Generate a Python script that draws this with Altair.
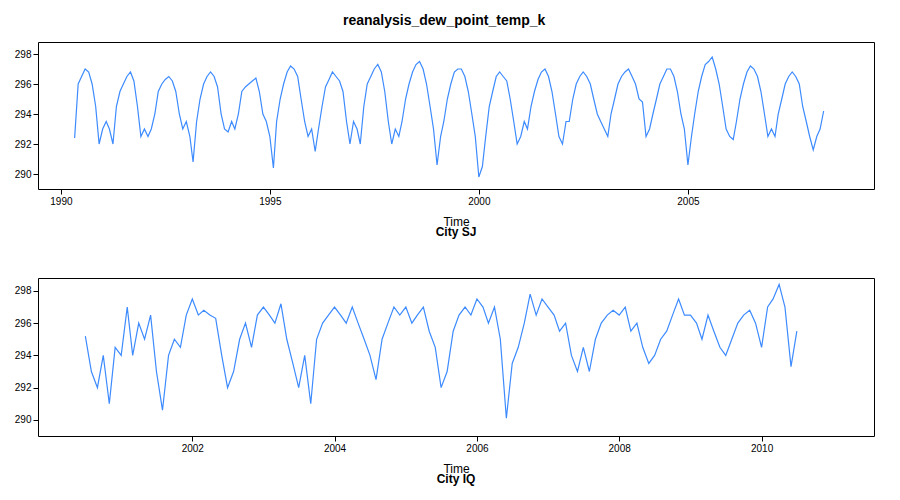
import altair as alt
import pandas as pd

sj_start = "1990-05-01"
sj_vals = [
    292.4, 296.0, 296.5, 297.0, 296.8, 296.0, 294.5, 292.0,
    293.0, 293.5, 293.0, 292.0, 294.5, 295.5, 296.0, 296.5, 296.8, 296.2, 294.5, 292.5,
    293.0, 292.5, 293.0, 294.0, 295.5, 296.0, 296.3, 296.5, 296.2, 295.5, 294.0, 293.0,
    293.5, 292.5, 290.8, 293.5, 295.0, 296.0, 296.5, 296.8, 296.5, 295.8, 294.0, 293.0,
    292.8, 293.5, 293.0, 294.0, 295.5, 295.8, 296.0, 296.2, 296.4, 295.5, 294.0, 293.5,
    292.5, 290.4, 293.5, 295.0, 296.0, 296.8, 297.2, 297.0, 296.5, 295.0, 293.5, 292.5,
    293.0, 291.5, 293.0, 294.5, 295.8, 296.3, 296.8, 296.5, 296.2, 295.5, 293.5, 292.0,
    293.5, 293.0, 292.0, 294.5, 296.0, 296.5, 297.0, 297.3, 296.8, 295.5, 293.5, 292.0,
    293.0, 292.5, 293.5, 295.0, 296.0, 296.8, 297.3, 297.5, 297.0, 296.0, 294.5, 293.0,
    290.6, 292.5, 293.5, 295.0, 296.0, 296.8, 297.0, 297.0, 296.5, 295.5, 294.0, 292.5,
    289.8, 290.5, 292.5, 294.5, 295.5, 296.5, 296.8, 296.5, 296.2, 295.0, 293.5, 292.0,
    292.5, 293.5, 293.0, 294.5, 295.5, 296.3, 296.8, 297.0, 296.5, 295.5, 294.0, 292.5,
    292.0, 293.5, 293.5, 295.0, 296.0, 296.5, 296.8, 296.5, 296.0, 295.0, 294.0, 293.5,
    293.0, 292.5, 294.0, 295.0, 296.0, 296.5, 296.8, 297.0, 296.5, 296.0, 295.0, 294.8,
    292.5, 293.0, 294.0, 295.0, 296.0, 296.5, 297.0, 297.0, 296.5, 295.5, 294.0, 293.0,
    290.6, 292.5, 294.0, 295.5, 296.5, 297.3, 297.5, 297.8, 297.0, 296.0, 294.5, 293.0,
    292.5, 292.3, 293.5, 295.0, 296.0, 296.8, 297.2, 297.0, 296.5, 295.5, 294.0, 292.5,
    293.0, 292.5, 294.0, 295.0, 296.0, 296.5, 296.8, 296.5, 296.0, 294.5, 293.5, 292.5,
    291.6, 292.5, 293.0, 294.2,
]

iq_start = "2000-07-01"
iq_vals = [
    295.2, 293.0, 292.0, 294.0, 291.0, 294.5,
    294.0, 297.0, 294.0, 296.0, 295.0, 296.5, 293.0, 290.6, 294.0, 295.0, 294.5, 296.5,
    297.5, 296.5, 296.8, 296.5, 296.3, 294.0, 292.0, 293.0, 295.0, 296.0, 294.5, 296.5,
    297.0, 296.5, 296.0, 297.2, 295.0, 293.5, 292.0, 294.0, 291.0, 295.0, 296.0, 296.5,
    297.0, 296.5, 296.0, 297.0, 296.0, 295.0, 294.0, 292.5, 295.0, 296.0, 297.0, 296.5,
    297.0, 296.0, 296.5, 297.0, 295.5, 294.5, 292.0, 293.0, 295.5, 296.5, 297.0, 296.5,
    297.5, 297.0, 296.0, 297.0, 295.0, 290.1, 293.5, 294.5, 296.0, 297.8, 296.5, 297.5,
    297.0, 296.5, 295.5, 296.0, 294.0, 293.0, 294.5, 293.0, 295.0, 296.0, 296.5, 296.8,
    296.5, 297.0, 295.5, 296.0, 294.5, 293.5, 294.0, 295.0, 295.5, 296.5, 297.5, 296.5,
    296.5, 296.0, 295.0, 296.5, 295.5, 294.5, 294.0, 295.0, 296.0, 296.5, 296.8, 296.0,
    294.5, 297.0, 297.5, 298.4, 297.0, 293.3, 295.5,
]


def panel(start, vals, city, dmin, dmax, tick_years, h):
    df = pd.DataFrame({"Time": pd.date_range(start, periods=len(vals), freq="MS"),
                       "v": vals})
    return alt.Chart(df).mark_line(color="#3d8bff", strokeWidth=1.2).encode(
        x=alt.X("Time:T", title="Time",
                scale=alt.Scale(domain=[dmin, dmax]),
                axis=alt.Axis(format="%Y", values=tick_years, grid=False,
                              labelFontSize=10, titleFontSize=12,
                              titleFontWeight="normal", tickColor="black",
                              labelColor="black", titleColor="black",
                              titlePadding=10, domain=False)),
        y=alt.Y("v:Q", title=None,
                scale=alt.Scale(domain=[289, 298.8], nice=False, zero=False),
                axis=alt.Axis(values=[290, 292, 294, 296, 298], grid=False,
                              labelFontSize=10, labelColor="black",
                              domain=False, tickColor="black")),
    ).properties(
        width=836, height=h,
        title=alt.TitleParams(city, orient="bottom", fontSize=12,
                              fontWeight="bold", offset=0),
    )


sj_ticks = [f"{y}-01-01" for y in [1990, 1995, 2000, 2005]]
iq_ticks = [f"{y}-01-01" for y in [2002, 2004, 2006, 2008, 2010]]

top = panel(sj_start, sj_vals, "City SJ", "1989-06-15", "2009-06-15", sj_ticks, 147)
bottom = panel(iq_start, iq_vals, "City IQ", "1999-11-01", "2011-08-01", iq_ticks, 158)

chart = alt.vconcat(top, bottom, spacing=38).properties(
    title=alt.TitleParams("reanalysis_dew_point_temp_k", fontSize=14,
                          fontWeight="bold", anchor="middle", offset=14),
).configure(font="Liberation Sans").configure_view(stroke="black")

chart.save("out.html", embed_options={"renderer": "svg", "actions": False})
